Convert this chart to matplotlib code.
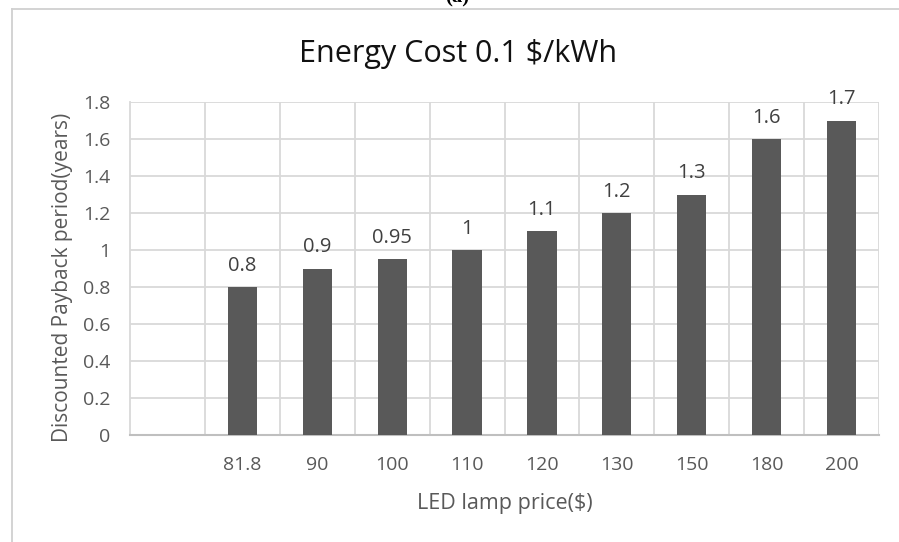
import numpy as np
import matplotlib.pyplot as plt
from matplotlib.lines import Line2D

plt.rcParams['font.family'] = ['Open Sans', 'DejaVu Sans']

# LED lamp price categories and discounted payback period
prices = ['81.8', '90', '100', '110', '120', '130', '150', '180', '200']
payback = [0.8, 0.9, 0.95, 1, 1.1, 1.2, 1.3, 1.6, 1.7]
value_labels = ['0.8', '0.9', '0.95', '1', '1.1', '1.2', '1.3', '1.6', '1.7']
yticks = [0, 0.2, 0.4, 0.6, 0.8, 1, 1.2, 1.4, 1.6, 1.8]
ytick_labels = ['0', '0.2', '0.4', '0.6', '0.8', '1', '1.2', '1.4', '1.6', '1.8']

W, H = 899, 542
fig = plt.figure(figsize=(W / 100, H / 100), dpi=100)
ax = fig.add_axes([130 / W, 1 - 435 / H, (879 - 130) / W, (435 - 102) / H])

grid_c = '#d9d9d9'
text_c = '#595959'

# first slot is left empty, bars start at position 1
x = np.arange(1, len(prices) + 1)
ax.bar(x, payback, width=0.39, color='#595959', zorder=3)
for xi, v, s in zip(x, payback, value_labels):
    ax.annotate(s, (xi, v), xytext=(0, 8), textcoords='offset points',
                ha='center', va='bottom', fontsize=14.5, color='#404040')

ax.set_xlim(-0.5, len(prices) + 0.5)
ax.set_ylim(0, 1.8)
ax.set_yticks(yticks)
ax.set_yticklabels(ytick_labels)
ax.set_xticks(x)
ax.set_xticklabels(prices)
ax.set_xticks(np.arange(0.5, len(prices) + 1, 1.0), minor=True)

ax.grid(axis='y', color=grid_c, linewidth=1.3, zorder=0)
ax.grid(axis='x', which='minor', color=grid_c, linewidth=1.3, zorder=0)
ax.grid(axis='x', which='major', visible=False)

ax.tick_params(axis='both', which='both', length=0)
ax.tick_params(axis='y', pad=14, labelsize=14, labelcolor=text_c)
ax.tick_params(axis='x', pad=15, labelsize=14, labelcolor=text_c)

for side in ['top', 'right']:
    ax.spines[side].set_visible(False)
ax.spines['left'].set_color(grid_c)
ax.spines['left'].set_linewidth(1.3)
ax.spines['bottom'].set_color('#bfbfbf')
ax.spines['bottom'].set_linewidth(1.5)

ax.set_xlabel('LED lamp price($)', fontsize=15.5, color=text_c, labelpad=14)
ax.set_ylabel('Discounted Payback period(years)', fontsize=15, color=text_c)
ax.yaxis.set_label_coords(-0.076, 0.474)

fig.text(458 / W, 1 - 54 / H, 'Energy Cost 0.1 $/kWh', ha='center', va='center',
         fontsize=22, color='#111111')

# chart frame and the panel letter cut at the top edge
fig.add_artist(Line2D([12 / W, 12 / W], [0, 1 - 9 / H], color='#d0d0d0', lw=1.3))
fig.add_artist(Line2D([12 / W, 1], [1 - 9 / H, 1 - 9 / H], color='#d0d0d0', lw=1.3))
fig.text(457 / W, 1 - 7 / H, '(a)', ha='center', va='bottom', fontsize=15,
         fontweight='bold', family='Liberation Serif', color='black')

fig.savefig('out.png', dpi=100)
